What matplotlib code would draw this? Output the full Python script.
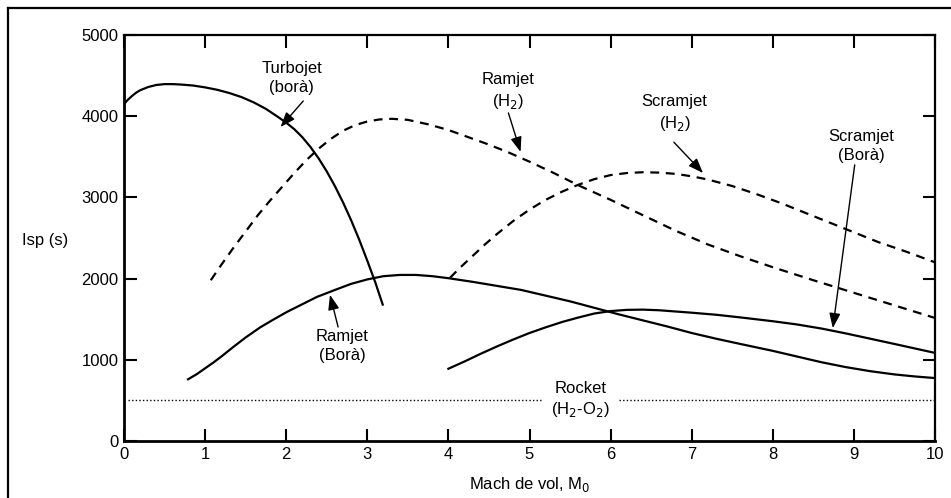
import matplotlib
matplotlib.use("Agg")
import matplotlib.pyplot as plt
from matplotlib.lines import Line2D

plt.rcParams['font.family'] = ['Liberation Sans', 'DejaVu Sans']
plt.rcParams['font.size'] = 12

# Isp (s) against flight Mach number, read per engine type
turbojet_m = [0.0, 0.05, 0.1, 0.15, 0.2, 0.3, 0.4, 0.5, 0.6, 0.7, 0.85, 1.0, 1.15, 1.3, 1.45, 1.6, 1.75,
              1.9, 2.0, 2.1, 2.2, 2.3, 2.4, 2.5, 2.6, 2.7, 2.8, 2.9, 3.0, 3.1, 3.19]
turbojet_isp = [4150, 4205, 4250, 4290, 4320, 4360, 4385, 4395, 4395, 4390, 4378, 4355, 4325, 4285, 4235, 4170, 4090,
                3990, 3920, 3840, 3740, 3620, 3480, 3320, 3140, 2940, 2720, 2480, 2220, 1950, 1680]

ramjet_h2_m = [1.07, 1.2, 1.35, 1.5, 1.65, 1.8, 1.95, 2.1, 2.25, 2.4, 2.55, 2.7, 2.85, 3.0, 3.15, 3.3, 3.5, 3.75,
               4.0, 4.25, 4.5, 4.75, 5.0, 5.3, 5.6, 6.0, 6.4, 6.8, 7.2, 7.6, 8.0, 8.5, 9.0, 9.5, 10.0]
ramjet_h2_isp = [1980, 2170, 2380, 2580, 2780, 2960, 3130, 3300, 3460, 3600, 3720, 3820, 3890, 3935, 3960, 3968, 3955, 3900,
                 3830, 3740, 3650, 3550, 3440, 3300, 3150, 2970, 2780, 2590, 2420, 2275, 2140, 1980, 1825, 1670, 1515]

scramjet_h2_m = [4.02, 4.15, 4.3, 4.45, 4.6, 4.8, 5.0, 5.2, 5.4, 5.6, 5.8, 6.0, 6.2, 6.4, 6.6, 6.8, 7.0, 7.2,
                 7.5, 7.8, 8.1, 8.4, 8.7, 9.0, 9.3, 9.65, 10.0]
scramjet_h2_isp = [2010, 2140, 2280, 2420, 2550, 2710, 2850, 2970, 3070, 3155, 3225, 3275, 3300, 3310, 3305, 3290, 3260, 3220,
                   3140, 3040, 2930, 2810, 2690, 2570, 2450, 2330, 2200]

ramjet_bora_m = [0.79, 0.9, 1.0, 1.1, 1.2, 1.35, 1.5, 1.68, 1.85, 2.01, 2.2, 2.38, 2.6, 2.8, 3.0, 3.2, 3.4, 3.6, 3.8,
                 4.0, 4.3, 4.6, 4.9, 5.2, 5.5, 5.8, 6.1, 6.4, 6.7, 7.0, 7.3, 7.6, 8.0, 8.3, 8.6, 8.9, 9.2, 9.5, 9.75, 10.0]
ramjet_bora_isp = [760, 825, 895, 965, 1040, 1160, 1275, 1400, 1500, 1590, 1685, 1775, 1860, 1935, 1990, 2030, 2045, 2045, 2030,
                   2005, 1960, 1910, 1860, 1790, 1720, 1640, 1560, 1485, 1410, 1330, 1260, 1195, 1110, 1040, 970, 910, 860, 820, 795, 775]

scramjet_bora_m = [4.0, 4.2, 4.4, 4.6, 4.8, 5.0, 5.2, 5.4, 5.6, 5.8, 6.0, 6.2, 6.4, 6.6, 6.8, 7.0, 7.3, 7.6,
                   8.0, 8.3, 8.6, 8.9, 9.2, 9.5, 9.75, 10.0]
scramjet_bora_isp = [890, 980, 1075, 1165, 1250, 1330, 1400, 1465, 1520, 1570, 1600, 1615, 1618, 1610, 1595, 1580, 1555, 1522,
                     1475, 1435, 1385, 1325, 1260, 1195, 1140, 1085]

rocket_isp = 500
rocket_spans = [(0.05, 5.16), (6.1, 10.0)]

fig = plt.figure(figsize=(9.51, 4.98), dpi=100)
ax = fig.add_axes([124 / 951, 1 - 441 / 498, 811 / 951, 406 / 498])

# outer frame (only top and left edges fall inside the image)
fig.add_artist(Line2D([8 / 951, 1.0], [1 - 8 / 498, 1 - 8 / 498], color='k', lw=1.6, transform=fig.transFigure))
fig.add_artist(Line2D([8 / 951, 8 / 951], [0.0, 1 - 8 / 498], color='k', lw=1.6, transform=fig.transFigure))

solid = dict(color='k', lw=1.6, solid_joinstyle='round')
dashed = dict(color='k', lw=1.6, linestyle=(0, (4, 3)))

ax.plot(turbojet_m, turbojet_isp, **solid)
ax.plot(ramjet_bora_m, ramjet_bora_isp, **solid)
ax.plot(scramjet_bora_m, scramjet_bora_isp, **solid)
ax.plot(ramjet_h2_m, ramjet_h2_isp, **dashed)
ax.plot(scramjet_h2_m, scramjet_h2_isp, **dashed)
for x0, x1 in rocket_spans:
    ax.plot([x0, x1], [rocket_isp, rocket_isp], color='k', lw=1.0, linestyle=(0, (1, 1.6)))

arrow = dict(arrowstyle='-|>,head_length=0.75,head_width=0.28', color='k', lw=1.0, shrinkA=0, shrinkB=0)


def label(text, xy_text, xy_tail=None, xy_tip=None):
    ax.text(*xy_text, text, ha='center', va='center', linespacing=1.35)
    if xy_tail is not None:
        ax.annotate('', xy=xy_tip, xytext=xy_tail, arrowprops=arrow)


label('Turbojet\n(borà)', (2.07, 4470), (2.21, 4187), (1.93, 3867))
label('Ramjet\n(H$_2$)', (4.73, 4300), (4.74, 4040), (4.89, 3560))
label('Scramjet\n(H$_2$)', (6.79, 4030), (6.78, 3680), (7.14, 3300))
label('Scramjet\n(Borà)', (9.09, 3633), (9.01, 3400), (8.74, 1390))
label('Ramjet\n(Borà)', (2.69, 1170), (2.64, 1404), (2.54, 1800))
label('Rocket\n(H$_2$-O$_2$)', (5.63, 505))

ax.set_xlim(0, 10)
ax.set_ylim(0, 5000)
ax.set_xticks(range(0, 11))
ax.set_yticks(range(0, 5001, 1000))
ax.tick_params(direction='in', length=9, width=1.5, top=True, right=True, pad=4, labelsize=12)
for side in ['left', 'bottom']:
    ax.spines[side].set_linewidth(2.0)
for side in ['top', 'right']:
    ax.spines[side].set_linewidth(1.6)

ax.set_xlabel('Mach de vol, M$_0$', va='center')
ax.xaxis.set_label_coords(0.5, -0.108)
ax.set_ylabel('Isp (s)', rotation=0, ha='center', va='center')
ax.yaxis.set_label_coords(-0.097, 0.495)

fig.savefig('out.png', dpi=100)
